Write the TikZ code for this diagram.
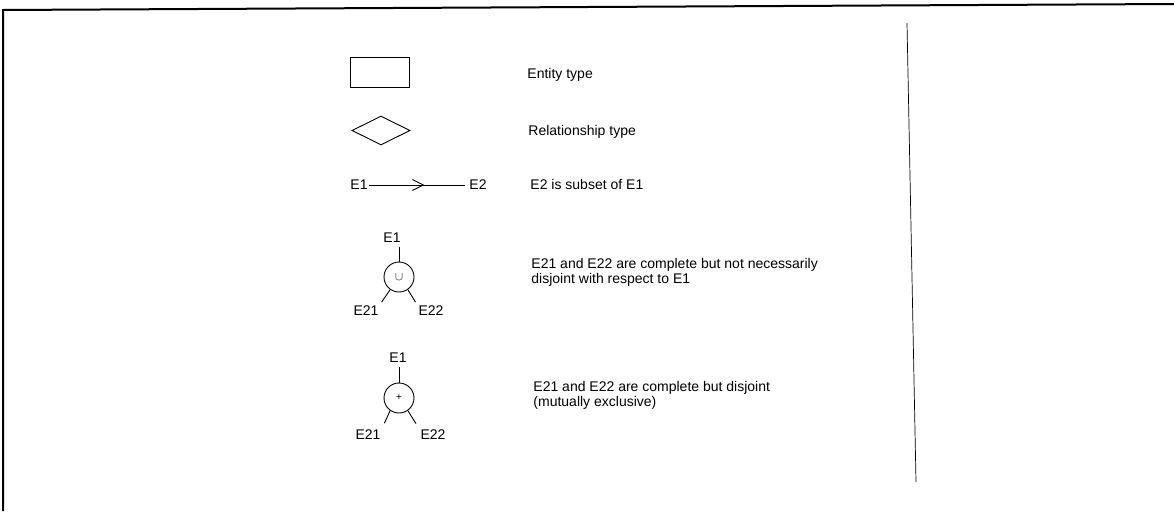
\documentclass[tikz,border=0pt]{standalone}
\usepackage{fontspec}
\setmainfont{Liberation Sans}
\usetikzlibrary{arrows.meta,shapes.geometric,decorations.markings}

\begin{document}
\begin{tikzpicture}[
  x=1pt, y=-1pt,
  line width=0.9pt,
  font=\fontsize{14}{15}\selectfont,
  lab/.style={inner sep=1pt},
  txt/.style={anchor=base west,inner sep=0},
  gen/.style={circle,draw,minimum size=30pt,inner sep=0},
]
  \useasboundingbox (0,0) rectangle (1174,511);
  % frame and divider
  \draw[line width=2pt] (3,511) -- (3,10) -- (1174,4);
  \draw[line width=0.7pt] (907,23) -- (916,482);

  \node[draw,minimum width=59pt,minimum height=30pt] (ent) at (379.5,72) {};
  \node[diamond,draw,aspect=2,minimum width=58pt,minimum height=29pt,inner sep=0] (rel) at (381,130.5) {};

  \node[lab] (sa) at (359,185) {E1};
  \node[lab] (sb) at (478,185) {E2};
  \draw[shorten >=3pt, postaction={decorate},
        decoration={markings, mark=at position 0.56 with {\arrow{Straight Barb[length=11pt,width=11pt]}}}]
    (sa) -- (sb);

  \foreach \n/\cy/\op/\tx/\ty/\lx/\rx/\ly/\gap in {%
      1/277/{\fontsize{12}{12}\selectfont$\cup$}/392/238/366/431/311/3,
      2/398/{\fontsize{10}{10}\selectfont+}/398/358/368/433/435/6} {
    \node[gen] (g\n) at (399,\cy) {\op};
    \node[lab] (top\n) at (\tx,\ty) {E1};
    \node[lab] (l\n) at (\lx,\ly) {E21};
    \node[lab] (r\n) at (\rx,\ly) {E22};
    \draw[shorten <=3pt] (top\n.south -| g\n.north) -- (g\n.north);
    \draw[shorten >=\gap pt] (g\n.235) -- (l\n.north east);
    \draw[shorten >=\gap pt] (g\n.-55) -- (r\n.north west);
  }

  \foreach \name/\x/\y/\str in {d1/527/78/Entity type, d2/528/135/Relationship type, d3/530/189/E2 is subset of E1}
    \node[txt] (\name) at (\x,\y) {\str};
  \node[anchor=north west,inner sep=0,align=left] (d4) at (531,258)
    {E21 and E22 are complete but not necessarily\\disjoint with respect to E1};
  \node[anchor=north west,inner sep=0,align=left] (d5) at (533,381)
    {E21 and E22 are complete but disjoint\\(mutually exclusive)};
\end{tikzpicture}
\end{document}
